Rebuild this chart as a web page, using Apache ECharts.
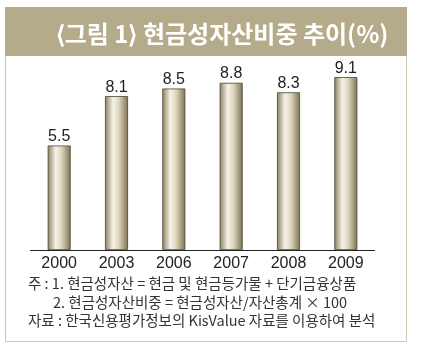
<!DOCTYPE html>
<html>
<head>
<meta charset="utf-8">
<script src="https://cdn.jsdelivr.net/npm/echarts@6/dist/echarts.min.js"></script>
<style>
  html, body { margin: 0; padding: 0; background: #fff; }
  #chart { width: 421px; height: 351px; }
</style>
</head>
<body>
<div id="chart"></div>
<script>
// 연도별 현금성자산비중(%)
const years = ['2000', '2003', '2006', '2007', '2008', '2009'];
const cashRatio = [5.5, 8.1, 8.5, 8.8, 8.3, 9.1];
const titleText = '⟨그림 1⟩ 현금성자산비중 추이(%)';
const notes = [
  '주 : 1. 현금성자산 = 현금 및 현금등가물 + 단기금융상품',
  '2. 현금성자산비중 = 현금성자산/자산총계 × 100',
  '자료 : 한국신용평가정보의 KisValue 자료를 이용하여 분석'
];

const chart = echarts.init(document.getElementById('chart'));
const font = '"Noto Sans CJK KR", "Liberation Sans", sans-serif';

const barColor = new echarts.graphic.LinearGradient(0, 0, 1, 0, [
  { offset: 0, color: '#8a805f' },
  { offset: 0.35, color: '#f6f2e7' },
  { offset: 0.6, color: '#ddd5bd' },
  { offset: 1, color: '#7d7254' }
]);

const noteStyle = { fill: '#333', font: '14.5px ' + font, verticalAlign: 'middle' };

const option = {
  animation: false,
  graphic: [
    {
      type: 'rect',
      shape: { x: 5.5, y: 55.5, width: 401, height: 286 },
      style: { fill: '#fff', stroke: '#cdc8b6', lineWidth: 1 },
      z: -1
    },
    {
      type: 'rect',
      shape: { x: 5, y: 7, width: 402, height: 49 },
      style: { fill: '#b4ab8a' },
      z: 0
    },
    {
      type: 'text',
      x: 222,
      y: 34,
      style: {
        text: titleText,
        fill: '#fff',
        font: 'bold 24px ' + font,
        align: 'center',
        verticalAlign: 'middle'
      }
    },
    { type: 'text', x: 28, y: 283, style: Object.assign({ text: notes[0] }, noteStyle) },
    { type: 'text', x: 53, y: 302, style: Object.assign({ text: notes[1] }, noteStyle) },
    { type: 'text', x: 28, y: 320, style: Object.assign({ text: notes[2] }, noteStyle) }
  ],
  grid: {
    left: 30.5,
    right: 46.5,
    top: 60,
    bottom: 101
  },
  xAxis: {
    type: 'category',
    data: years,
    axisLine: { show: true, lineStyle: { color: '#222', width: 1 } },
    axisTick: { show: false },
    axisLabel: {
      color: '#222',
      fontSize: 16,
      fontFamily: 'Liberation Sans',
      margin: 6
    }
  },
  yAxis: {
    type: 'value',
    min: 0,
    max: 10,
    show: false,
    splitLine: { show: false }
  },
  series: [
    {
      type: 'bar',
      data: cashRatio,
      barWidth: 23,
      itemStyle: {
        color: barColor,
        borderColor: '#4a4536',
        borderWidth: 0.8
      },
      label: {
        show: true,
        position: 'top',
        distance: 1,
        color: '#222',
        fontSize: 16,
        fontFamily: 'Liberation Sans',
        formatter: p => p.value.toFixed(1)
      }
    }
  ]
};
chart.setOption(option);
</script>
</body>
</html>
